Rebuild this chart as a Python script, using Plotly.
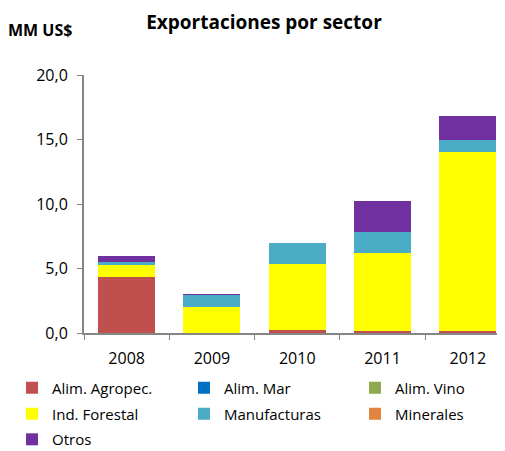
import plotly.graph_objects as go

# datos (MM US$)
anios = ['2008', '2009', '2010', '2011', '2012']
alim_agropec = [4.35, 0.02, 0.22, 0.12, 0.15]
alim_mar = [0.0, 0.0, 0.0, 0.0, 0.0]
alim_vino = [0.0, 0.0, 0.0, 0.0, 0.0]
ind_forestal = [0.93, 2.0, 5.1, 6.12, 13.85]
manufacturas = [0.23, 0.96, 1.65, 1.56, 0.93]
minerales = [0.0, 0.0, 0.0, 0.0, 0.0]
otros = [0.47, 0.03, 0.0, 2.47, 1.88]

series = [
    ('Alim. Agropec.', alim_agropec, '#C0504D'),
    ('Alim. Mar', alim_mar, '#0070C0'),
    ('Alim. Vino', alim_vino, '#8EA94F'),
    ('Ind. Forestal', ind_forestal, '#FFFF00'),
    ('Manufacturas', manufacturas, '#4BACC6'),
    ('Minerales', minerales, '#E0843E'),
    ('Otros', otros, '#7030A0'),
]

fuente = 'Open Sans'

# la pagina tiene 8px de margen en el body, asi que la figura es 8px mas chica
ancho, alto = 497, 443

# leyenda en 3 columnas: una leyenda por serie, colocada en su celda
col_x = [-0.171, 0.2375, 0.6437]
fila_y = [-0.213, -0.314, -0.413]

fig = go.Figure()
leyendas = {}
for i, (nombre, valores, color) in enumerate(series):
    ley = 'legend' if i == 0 else f'legend{i + 1}'
    fig.add_trace(go.Bar(x=anios, y=valores, name=nombre,
                         marker=dict(color=color, line=dict(width=0)),
                         width=0.668, legend=ley))
    leyendas[ley] = dict(x=col_x[i % 3], y=fila_y[i // 3], xanchor='left',
                         yanchor='middle', itemwidth=30, bgcolor='rgba(0,0,0,0)',
                         font=dict(family=fuente, size=15, color='#000000'))

fig.update_layout(
    barmode='stack',
    width=ancho, height=alto,
    margin=dict(l=76, r=0, t=67, b=118, autoexpand=False),
    paper_bgcolor='white',
    plot_bgcolor='white',
    separators=',.',
    font=dict(family=fuente, size=16, color='#000000'),
    title=dict(text='<b>Exportaciones por sector</b>', x=0.515, xanchor='center',
               y=0.968, yanchor='middle', font=dict(family=fuente, size=19)),
    showlegend=True,
    annotations=[dict(text='<b>MM US$</b>', xref='paper', yref='paper',
                      x=-0.185, y=1.174, xanchor='left', yanchor='middle',
                      showarrow=False, font=dict(family=fuente, size=16))],
    **leyendas,
)

fig.update_xaxes(
    type='category', range=[-0.5, 4.436],
    showline=True, linecolor='#868686', linewidth=2,
    ticks='outside', ticklen=5, tickcolor='#868686',
    tickson='boundaries', showgrid=False, ticklabelstandoff=10,
)
fig.update_yaxes(
    range=[0, 20], dtick=5, tickformat='.1f',
    showline=True, linecolor='#868686', linewidth=2,
    ticks='outside', ticklen=5, tickcolor='#868686',
    showgrid=False, zeroline=False, ticklabelstandoff=6,
)

fig.write_html('out.html')
